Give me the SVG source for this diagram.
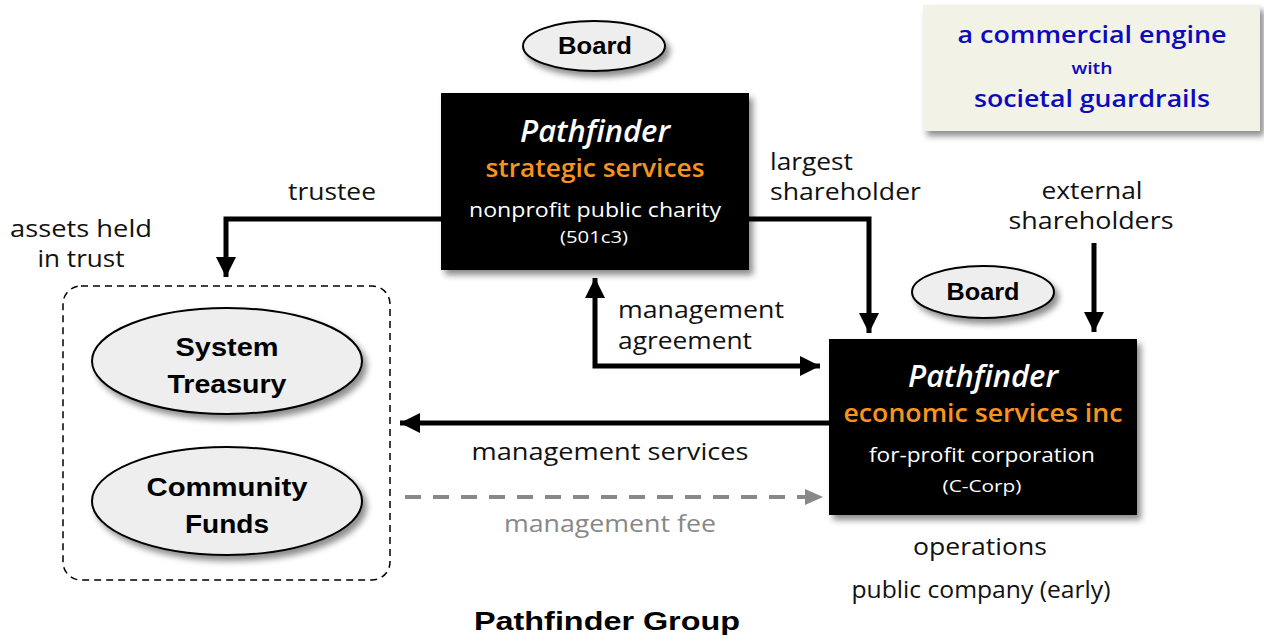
<svg xmlns="http://www.w3.org/2000/svg" width="1264" height="641" viewBox="0 0 1264 641">
<style>
.lbl{font-family:"Open Sans","Liberation Sans",sans-serif;font-size:24px;fill:#111}
.bold{font-family:"Liberation Sans",Arial,sans-serif;font-weight:bold;fill:#000}
.pf{font-family:"Open Sans","Liberation Sans",sans-serif;font-style:italic;font-weight:600;font-size:31px;fill:#fff}
.org{font-family:"Open Sans","Liberation Sans",sans-serif;font-weight:600;font-size:26px;fill:#f7941d}
.wt{font-family:"Open Sans","Liberation Sans",sans-serif;fill:#fff}
.blue{font-family:"Open Sans","Liberation Sans",sans-serif;font-weight:600;fill:#0a0ac0}
.conn{fill:none;stroke:#000;stroke-width:5}
.ell{fill:#eeeeee;stroke:#000;stroke-width:2}
</style>
<defs>
<filter id="sh" x="-10%" y="-10%" width="130%" height="140%">
<feDropShadow dx="4" dy="5" stdDeviation="3" flood-color="#000" flood-opacity="0.45"/>
</filter>
<marker id="ah" markerUnits="userSpaceOnUse" markerWidth="22" markerHeight="20" refX="20" refY="10" orient="auto-start-reverse">
<path d="M0,0 L20,10 L0,20 Z" fill="#000"/>
</marker>
<marker id="ahg" markerUnits="userSpaceOnUse" markerWidth="20" markerHeight="16" refX="18" refY="8" orient="auto">
<path d="M0,0 L18,8 L0,16 Z" fill="#888"/>
</marker>
</defs>

<g id="callout">
<rect x="923" y="5" width="337" height="126" fill="#f2f2e6" filter="url(#sh)"/>
<text class="blue" x="1092" y="43" font-size="24" text-anchor="middle" textLength="269" lengthAdjust="spacingAndGlyphs">a commercial engine</text>
<text class="blue" x="1092" y="74" font-size="16" text-anchor="middle" textLength="41" lengthAdjust="spacingAndGlyphs">with</text>
<text class="blue" x="1092" y="107" font-size="24" text-anchor="middle" textLength="236" lengthAdjust="spacingAndGlyphs">societal guardrails</text>
</g>

<g id="board1">
<ellipse class="ell" cx="594" cy="46" rx="71" ry="25" filter="url(#sh)"/>
<text class="bold" x="595" y="54" font-size="23" text-anchor="middle" textLength="74" lengthAdjust="spacingAndGlyphs">Board</text>
</g>

<g id="board2">
<ellipse class="ell" cx="983" cy="292" rx="71" ry="26" filter="url(#sh)"/>
<text class="bold" x="983" y="300" font-size="23" text-anchor="middle" textLength="73" lengthAdjust="spacingAndGlyphs">Board</text>
</g>

<g id="connectors">
<path class="conn" d="M441,219 H226 V277" marker-end="url(#ah)"/>
<path class="conn" d="M748,219 H869 V333" marker-end="url(#ah)"/>
<path class="conn" d="M1094,243 V332" marker-end="url(#ah)"/>
<path class="conn" d="M595,278 V366 H820" marker-start="url(#ah)" marker-end="url(#ah)"/>
<path class="conn" d="M829,423 H400" marker-end="url(#ah)"/>
<path d="M405,497 H823" fill="none" stroke="#888" stroke-width="4" stroke-dasharray="16 12" marker-end="url(#ahg)"/>
</g>

<g id="strategic">
<rect x="441" y="93" width="308" height="177" fill="#000" filter="url(#sh)"/>
<text class="pf" x="595" y="142" text-anchor="middle" textLength="150" lengthAdjust="spacingAndGlyphs">Pathfinder</text>
<text class="org" x="595" y="177" text-anchor="middle" textLength="219" lengthAdjust="spacingAndGlyphs">strategic services</text>
<text class="wt" x="595" y="217" font-size="20" text-anchor="middle" textLength="252" lengthAdjust="spacingAndGlyphs">nonprofit public charity</text>
<text class="wt" x="594" y="243" font-size="16" text-anchor="middle" textLength="68" lengthAdjust="spacingAndGlyphs">(501c3)</text>
</g>

<g id="economic">
<rect x="829" y="339" width="308" height="176" fill="#000" filter="url(#sh)"/>
<text class="pf" x="983" y="387" text-anchor="middle" textLength="150" lengthAdjust="spacingAndGlyphs">Pathfinder</text>
<text class="org" x="983" y="422" text-anchor="middle" textLength="279" lengthAdjust="spacingAndGlyphs">economic services inc</text>
<text class="wt" x="982" y="462" font-size="20" text-anchor="middle" textLength="226" lengthAdjust="spacingAndGlyphs">for-profit corporation</text>
<text class="wt" x="982" y="492" font-size="16" text-anchor="middle" textLength="79" lengthAdjust="spacingAndGlyphs">(C-Corp)</text>
</g>

<g id="trust">
<rect x="63" y="286" width="327" height="294" rx="18" fill="none" stroke="#000" stroke-width="1.5" stroke-dasharray="7 5"/>
</g>

<g id="treasury">
<ellipse class="ell" cx="227" cy="361" rx="135" ry="53" filter="url(#sh)"/>
<text class="bold" x="227" y="356" font-size="25" text-anchor="middle" textLength="103" lengthAdjust="spacingAndGlyphs">System</text>
<text class="bold" x="227" y="393" font-size="25" text-anchor="middle" textLength="119" lengthAdjust="spacingAndGlyphs">Treasury</text>
</g>

<g id="community">
<ellipse class="ell" cx="227" cy="501" rx="135" ry="54" filter="url(#sh)"/>
<text class="bold" x="227" y="496" font-size="25" text-anchor="middle" textLength="161" lengthAdjust="spacingAndGlyphs">Community</text>
<text class="bold" x="227" y="533" font-size="25" text-anchor="middle" textLength="84" lengthAdjust="spacingAndGlyphs">Funds</text>
</g>

<g id="labels">
<text class="lbl" x="332" y="200" text-anchor="middle" textLength="88" lengthAdjust="spacingAndGlyphs">trustee</text>
<text class="lbl" x="81" y="237" text-anchor="middle" textLength="142" lengthAdjust="spacingAndGlyphs">assets held</text>
<text class="lbl" x="81" y="267" text-anchor="middle" textLength="87" lengthAdjust="spacingAndGlyphs">in trust</text>
<text class="lbl" x="770" y="170" textLength="83" lengthAdjust="spacingAndGlyphs">largest</text>
<text class="lbl" x="770" y="200" textLength="151" lengthAdjust="spacingAndGlyphs">shareholder</text>
<text class="lbl" x="1092" y="199" text-anchor="middle" textLength="101" lengthAdjust="spacingAndGlyphs">external</text>
<text class="lbl" x="1091" y="229" text-anchor="middle" textLength="165" lengthAdjust="spacingAndGlyphs">shareholders</text>
<text class="lbl" x="618" y="318" font-size="23" textLength="166" lengthAdjust="spacingAndGlyphs">management</text>
<text class="lbl" x="618" y="349" font-size="23" textLength="134" lengthAdjust="spacingAndGlyphs">agreement</text>
<text class="lbl" x="610" y="460" text-anchor="middle" textLength="277" lengthAdjust="spacingAndGlyphs">management services</text>
<text class="lbl" x="610" y="532" text-anchor="middle" textLength="212" lengthAdjust="spacingAndGlyphs" style="fill:#888">management fee</text>
<text class="lbl" x="980" y="555" text-anchor="middle" textLength="134" lengthAdjust="spacingAndGlyphs">operations</text>
<text class="lbl" x="981" y="598" font-size="20" text-anchor="middle" textLength="259" lengthAdjust="spacingAndGlyphs">public company (early)</text>
<text class="bold" x="607" y="630" font-size="26" text-anchor="middle" textLength="266" lengthAdjust="spacingAndGlyphs">Pathfinder Group</text>
</g>
</svg>
